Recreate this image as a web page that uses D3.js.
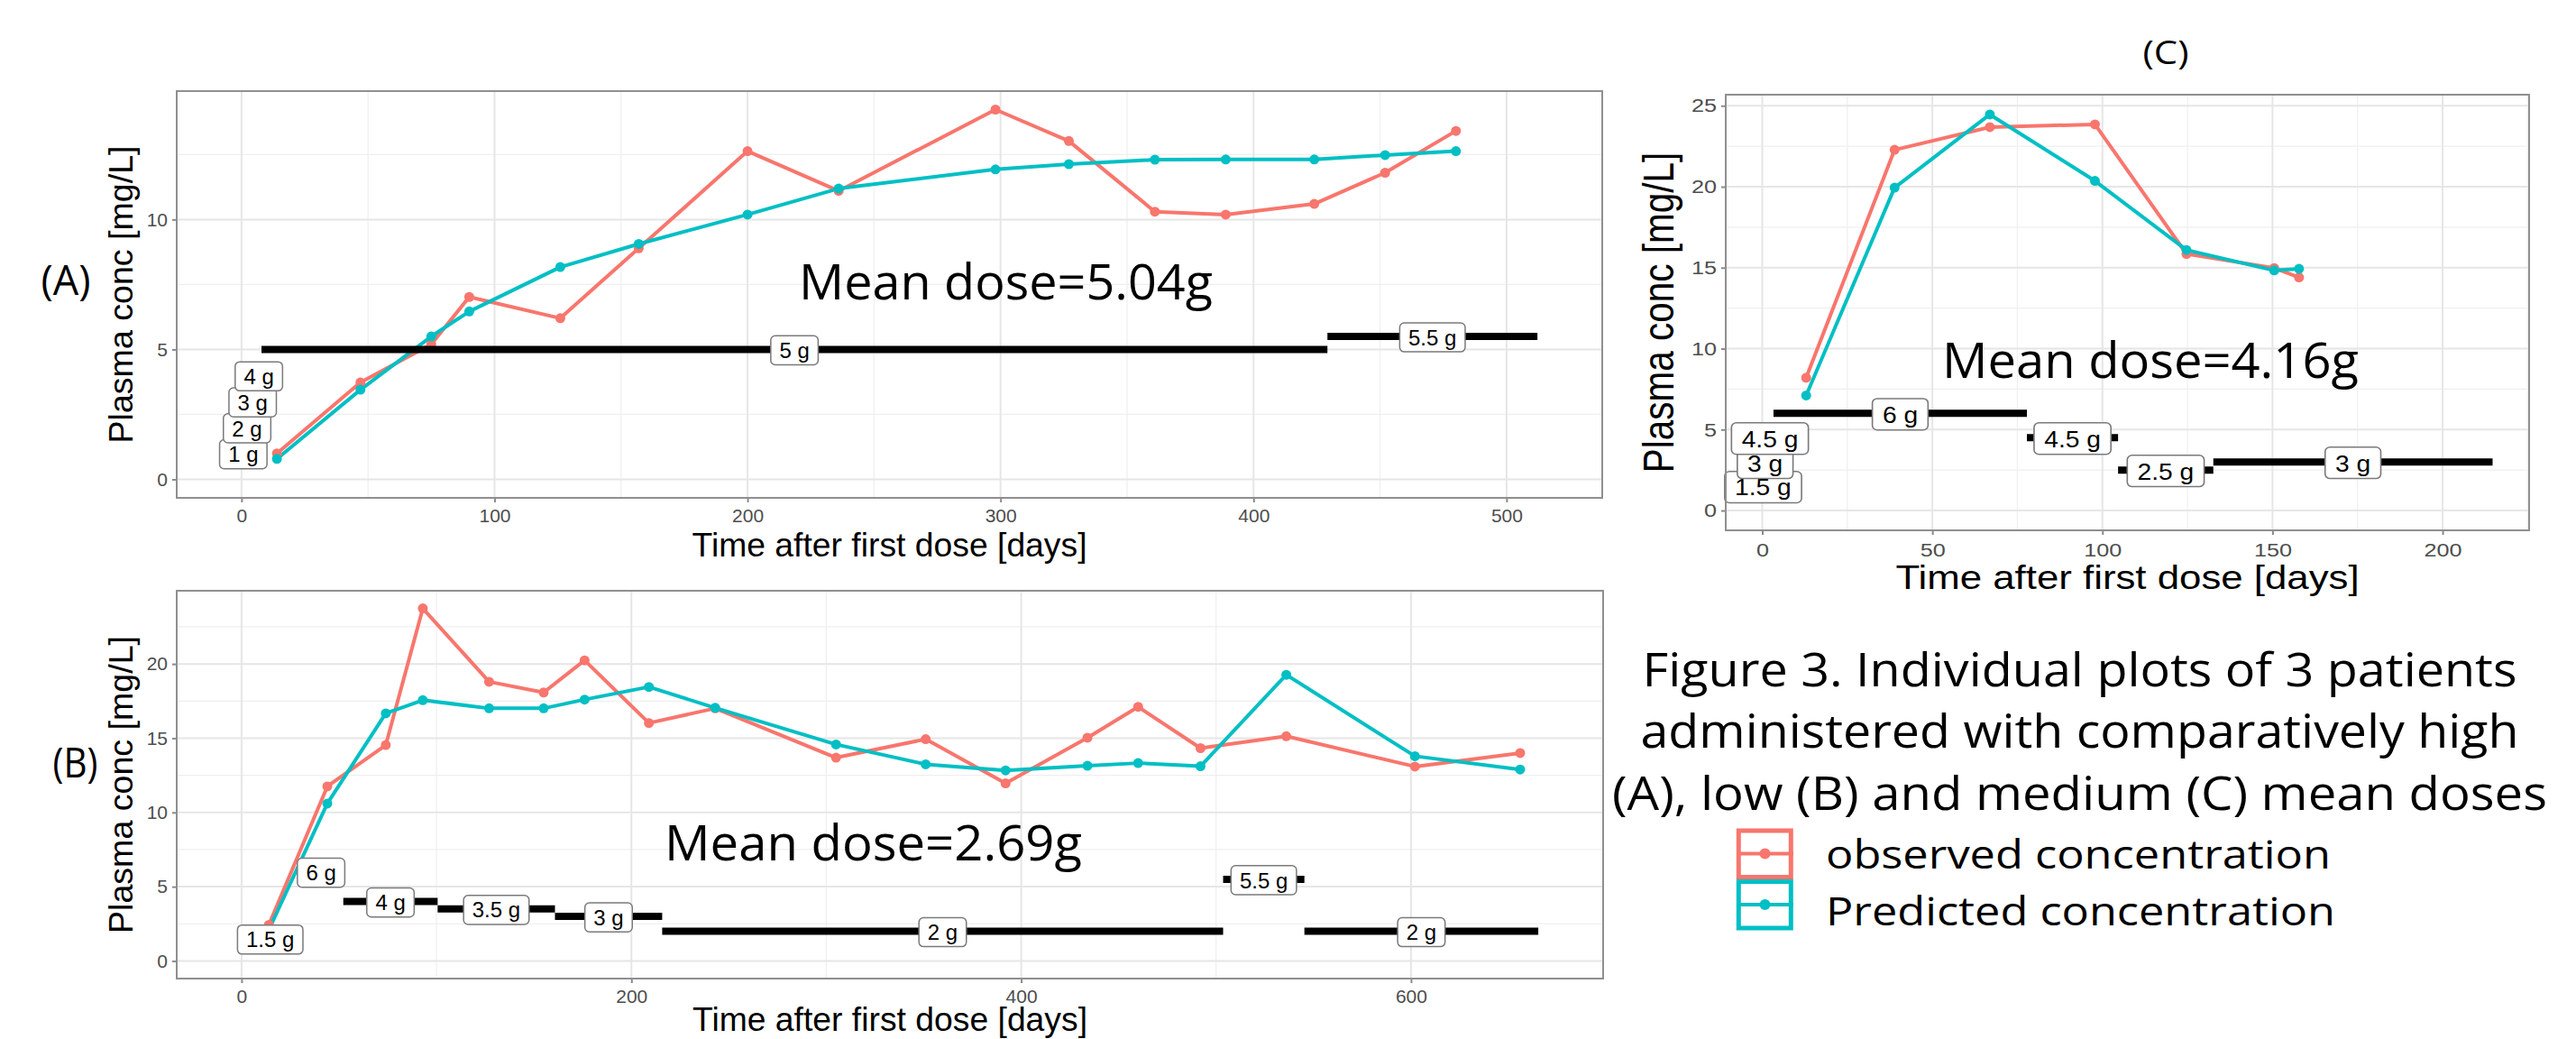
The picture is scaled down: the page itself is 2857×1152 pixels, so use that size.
<!DOCTYPE html>
<html>
<head>
<meta charset="utf-8">
<title>Figure 3</title>
<script src="https://cdnjs.cloudflare.com/ajax/libs/d3/7.8.5/d3.min.js"></script>
<style>
body { margin: 0; background: #fff; }
svg text { font-family: "Liberation Sans", Arial, sans-serif; }
svg text.note { font-family: "Open Sans", "Noto Sans", sans-serif; }
</style>
</head>
<body>
<script>
var width = 2857;
var height = 1152;

var seriesNames = ["observed concentration", "Predicted concentration"];
var seriesColors = ["#F8766D", "#00BFC4"];
var xTitle = "Time after first dose [days]";
var yTitle = "Plasma conc [mg/L]";
var meanDoses = [5.04, 2.69, 4.16];
var captionLines = [
  "Figure 3. Individual plots of 3 patients",
  "administered with comparatively high",
  "(A), low (B) and medium (C) mean doses"
];

// (A) high mean dose
var aDays = [14, 47, 75, 90, 126, 157, 200, 236, 298, 327, 361, 389, 424, 452, 480];
var aObs = [1.0, 3.73, 5.2, 7.02, 6.2, 8.89, 12.63, 11.1, 14.23, 13.02, 10.3, 10.19, 10.6, 11.8, 13.41];
var aPred = [0.79, 3.45, 5.5, 6.46, 8.17, 9.06, 10.19, 11.19, 11.93, 12.13, 12.3, 12.31, 12.31, 12.48, 12.63];
var aDoseFrom = [0, 1.4, 3.0, 5.8, 7.9, 429.2];
var aDoseTo = [1.4, 3.0, 5.8, 7.9, 429.2, 512.2];
var aDose = [1, 2, 3, 4, 5, 5.5];
var aXTicks = [0, 100, 200, 300, 400, 500];
var aYTicks = [0, 5, 10];

// (B) low mean dose
var bDays = [14, 44, 74, 93, 127, 155, 176, 209, 243, 305, 351, 392, 434, 460, 492, 536, 602, 656];
var bObs = [2.43, 11.75, 14.54, 23.74, 18.8, 18.08, 20.24, 16.02, 17.01, 13.69, 14.93, 11.96, 15.03, 17.11, 14.33, 15.13, 13.09, 14.0];
var bPred = [2.1, 10.6, 16.67, 17.56, 17.01, 17.01, 17.6, 18.45, 17.04, 14.58, 13.24, 12.83, 13.14, 13.32, 13.11, 19.27, 13.79, 12.89];
var bDoseFrom = [0, 29.4, 52.2, 100.6, 160.8, 215.8, 503.6, 545.3];
var bDoseTo = [29.4, 52.2, 100.6, 160.8, 215.8, 503.6, 545.3, 665.3];
var bDose = [1.5, 6, 4, 3.5, 3, 2, 5.5, 2];
var bXTicks = [0, 200, 400, 600];
var bYTicks = [0, 5, 10, 15, 20];

// (C) medium mean dose
var cDays = [12.9, 38.9, 66.9, 97.8, 124.7, 150.5, 157.8];
var cObs = [8.2, 22.28, 23.68, 23.85, 15.85, 14.98, 14.4];
var cPred = [7.11, 19.94, 24.46, 20.36, 16.09, 14.83, 14.93];
var cDoseFrom = [0, 0.5, 1.2, 3.3, 77.8, 104.6, 132.6];
var cDoseTo = [0.5, 1.2, 3.3, 77.8, 104.6, 132.6, 214.7];
var cDose = [1.5, 3, 4.5, 6, 4.5, 2.5, 3];
var cXTicks = [0, 50, 100, 150, 200];
var cYTicks = [0, 5, 10, 15, 20, 25];

var svg = d3.select("body").append("svg")
  .attr("width", width)
  .attr("height", height)
  .style("display", "block");

// ggplot style minor breaks: halfway between majors, one extra step past each end
function minorBreaks(ticks, domain) {
  var step = ticks[1] - ticks[0];
  var b = ticks.slice();
  if (domain[0] < b[0]) b.unshift(b[0] - step);
  if (domain[1] > b[b.length - 1]) b.push(b[b.length - 1] + step);
  var out = [];
  for (var i = 0; i < b.length - 1; i++) out.push((b[i] + b[i + 1]) / 2);
  return out.filter(function(v) { return v >= domain[0] && v <= domain[1]; });
}

function note(txt, x, y, size, len, anchor) {
  var t = svg.append("text")
    .attr("class", "note")
    .attr("x", x)
    .attr("y", y)
    .attr("text-anchor", anchor || "start")
    .style("font-size", size + "px")
    .attr("fill", "#000")
    .text(txt);
  if (len) t.attr("textLength", len).attr("lengthAdjust", "spacingAndGlyphs");
  return t;
}

function drawPanel(cfg) {
  var g = svg.append("g");
  var sx = cfg.textScale;

  var xr = d3.extent([0].concat(cfg.days, cfg.doseFrom, cfg.doseTo));
  var yr = d3.extent([0].concat(cfg.obs, cfg.pred, cfg.dose));
  var xe = (xr[1] - xr[0]) * 0.05;
  var ye = (yr[1] - yr[0]) * 0.05;
  var x = d3.scaleLinear().domain([xr[0] - xe, xr[1] + xe]).range([cfg.left, cfg.right]);
  var y = d3.scaleLinear().domain([yr[0] - ye, yr[1] + ye]).range([cfg.bottom, cfg.top]);

  g.append("rect")
    .attr("x", cfg.left).attr("y", cfg.top)
    .attr("width", cfg.right - cfg.left).attr("height", cfg.bottom - cfg.top)
    .attr("fill", "#fff");

  // grid
  var grid = g.append("g");
  grid.selectAll(null).data(minorBreaks(cfg.xTicks, x.domain())).enter().append("line")
    .attr("x1", function(d) { return x(d); }).attr("x2", function(d) { return x(d); })
    .attr("y1", cfg.top).attr("y2", cfg.bottom)
    .attr("stroke", "#efefef").attr("stroke-width", 1.2);
  grid.selectAll(null).data(minorBreaks(cfg.yTicks, y.domain())).enter().append("line")
    .attr("y1", function(d) { return y(d); }).attr("y2", function(d) { return y(d); })
    .attr("x1", cfg.left).attr("x2", cfg.right)
    .attr("stroke", "#efefef").attr("stroke-width", 1.2);
  grid.selectAll(null).data(cfg.xTicks).enter().append("line")
    .attr("x1", function(d) { return x(d); }).attr("x2", function(d) { return x(d); })
    .attr("y1", cfg.top).attr("y2", cfg.bottom)
    .attr("stroke", "#e6e6e6").attr("stroke-width", 2);
  grid.selectAll(null).data(cfg.yTicks).enter().append("line")
    .attr("y1", function(d) { return y(d); }).attr("y2", function(d) { return y(d); })
    .attr("x1", cfg.left).attr("x2", cfg.right)
    .attr("stroke", "#e6e6e6").attr("stroke-width", 2);

  // observed / predicted
  var line = d3.line()
    .x(function(d, i) { return x(cfg.days[i]); })
    .y(function(d) { return y(d); });
  [cfg.obs, cfg.pred].forEach(function(vals, k) {
    g.append("path").datum(vals)
      .attr("d", line)
      .attr("fill", "none")
      .attr("stroke", seriesColors[k])
      .attr("stroke-width", 4)
      .attr("stroke-linejoin", "round");
  });
  [cfg.obs, cfg.pred].forEach(function(vals, k) {
    g.selectAll(null).data(vals).enter().append("circle")
      .attr("cx", function(d, i) { return x(cfg.days[i]); })
      .attr("cy", function(d) { return y(d); })
      .attr("r", 5.5)
      .attr("fill", seriesColors[k]);
  });

  // dose regimen bars
  g.selectAll(null).data(cfg.dose).enter().append("line")
    .attr("x1", function(d, i) { return x(cfg.doseFrom[i]); })
    .attr("x2", function(d, i) { return x(cfg.doseTo[i]); })
    .attr("y1", function(d) { return y(d); })
    .attr("y2", function(d) { return y(d); })
    .attr("stroke", "#000")
    .attr("stroke-width", 8);

  var lab = g.selectAll(null).data(cfg.dose).enter().append("g")
    .attr("transform", function(d, i) {
      return "translate(" + x((cfg.doseFrom[i] + cfg.doseTo[i]) / 2) + "," + (y(d) + 1) + ") scale(" + cfg.labelScale + ",1)";
    });
  lab.append("rect");
  lab.append("text")
    .attr("text-anchor", "middle")
    .attr("dy", "0.36em")
    .style("font-size", cfg.labelSize + "px")
    .attr("fill", "#000")
    .text(function(d) { return d + " g"; });
  lab.each(function() {
    var w = d3.select(this).select("text").node().getComputedTextLength() + cfg.labelSize * 0.8;
    var h = cfg.labelSize * 1.34;
    d3.select(this).select("rect")
      .attr("x", -w / 2).attr("y", -h / 2)
      .attr("width", w).attr("height", h)
      .attr("rx", 5)
      .attr("fill", "#fff")
      .attr("stroke", "#7a7a7a")
      .attr("stroke-width", 1.5);
  });

  // axes
  var ax = g.append("g")
    .attr("transform", "translate(0," + cfg.bottom + ")")
    .call(d3.axisBottom(x).tickValues(cfg.xTicks).tickSize(5).tickPadding(cfg.xPad));
  ax.attr("font-family", null).attr("font-size", cfg.tickSize);
  ax.select(".domain").remove();
  ax.selectAll(".tick line").attr("stroke", "#8a8a8a").attr("stroke-width", 2);
  ax.selectAll(".tick text").attr("fill", "#4d4d4d").attr("transform", "scale(" + sx + ",1)");

  var ay = g.append("g")
    .attr("transform", "translate(" + cfg.left + ",0)")
    .call(d3.axisLeft(y).tickValues(cfg.yTicks).tickSize(5).tickPadding(cfg.yPad));
  ay.attr("font-family", null).attr("font-size", cfg.tickSize);
  ay.select(".domain").remove();
  ay.selectAll(".tick line").attr("stroke", "#8a8a8a").attr("stroke-width", 2);
  ay.selectAll(".tick text")
    .attr("fill", "#4d4d4d")
    .attr("x", 0)
    .attr("transform", "translate(" + (-5 - cfg.yPad) + ",0) scale(" + sx + ",1)");

  g.append("rect")
    .attr("x", cfg.left).attr("y", cfg.top)
    .attr("width", cfg.right - cfg.left).attr("height", cfg.bottom - cfg.top)
    .attr("fill", "none")
    .attr("stroke", "#8f8f8f")
    .attr("stroke-width", 2);

  // axis titles
  var cx = (cfg.left + cfg.right) / 2;
  var cy = (cfg.top + cfg.bottom) / 2;
  g.append("text")
    .attr("transform", "translate(" + cx + "," + cfg.xTitleY + ") scale(" + sx + ",1)")
    .attr("text-anchor", "middle")
    .style("font-size", cfg.titleSize + "px")
    .attr("fill", "#000")
    .text(xTitle);
  g.append("text")
    .attr("transform", "translate(" + cfg.yTitleX + "," + cy + ") scale(" + sx + ",1) rotate(-90)")
    .attr("text-anchor", "middle")
    .style("font-size", cfg.yTitleSize + "px")
    .attr("fill", "#000")
    .text(yTitle);

  note("Mean dose=" + cfg.meanDose.toFixed(2) + "g", cfg.note[0], cfg.note[1], 55, cfg.note[2]);
}

drawPanel({
  days: aDays, obs: aObs, pred: aPred,
  doseFrom: aDoseFrom, doseTo: aDoseTo, dose: aDose,
  xTicks: aXTicks, yTicks: aYTicks,
  left: 196, right: 1777, top: 101, bottom: 552,
  textScale: 1, labelScale: 1, labelSize: 24, tickSize: 21,
  xPad: 7.5, yPad: 5, titleSize: 37.3, yTitleSize: 37.6,
  xTitleY: 616.7, yTitleX: 147,
  meanDose: meanDoses[0], note: [886, 331.7, 459]
});

drawPanel({
  days: bDays, obs: bObs, pred: bPred,
  doseFrom: bDoseFrom, doseTo: bDoseTo, dose: bDose,
  xTicks: bXTicks, yTicks: bYTicks,
  left: 196, right: 1778, top: 655, bottom: 1085,
  textScale: 1, labelScale: 1, labelSize: 24, tickSize: 21,
  xPad: 7.5, yPad: 5, titleSize: 37.3, yTitleSize: 37.6,
  xTitleY: 1143, yTitleX: 147,
  meanDose: meanDoses[1], note: [737, 954, 463]
});

drawPanel({
  days: cDays, obs: cObs, pred: cPred,
  doseFrom: cDoseFrom, doseTo: cDoseTo, dose: cDose,
  xTicks: cXTicks, yTicks: cYTicks,
  left: 1914, right: 2805, top: 105, bottom: 588,
  textScale: 1.2, labelScale: 1.085, labelSize: 26, tickSize: 21,
  xPad: 9, yPad: 5, titleSize: 36.5, yTitleSize: 40.5,
  xTitleY: 653.3, yTitleX: 1855.5,
  meanDose: meanDoses[2], note: [2154, 418.5, 462]
});

// panel letters
note("(A)", 73, 327, 46, 55, "middle");
note("(B)", 83.5, 862, 46, 50, "middle");
note("(C)", 2402, 71, 36, 51, "middle");

// caption
var capY = [760.7, 829, 898.2];
var capW = [970, 974, 1037];
captionLines.forEach(function(s, i) {
  note(s, 2306.5, capY[i], 51, capW[i], "middle");
});

// legend
var keyTop = [918.5, 975];
var keyText = [963, 1026.2];
var textW = [560, 565];
seriesNames.forEach(function(name, k) {
  var lg = svg.append("g");
  lg.append("rect")
    .attr("x", 1928.3).attr("y", keyTop[k] + 2.5)
    .attr("width", 58).attr("height", 51.5)
    .attr("fill", "#fff")
    .attr("stroke", seriesColors[k])
    .attr("stroke-width", 5);
  lg.append("line")
    .attr("x1", 1926).attr("x2", 1989)
    .attr("y1", keyTop[k] + 28).attr("y2", keyTop[k] + 28)
    .attr("stroke", seriesColors[k])
    .attr("stroke-width", 4);
  lg.append("circle")
    .attr("cx", 1957.5).attr("cy", keyTop[k] + 28)
    .attr("r", 6)
    .attr("fill", seriesColors[k]);
  note(name, 2025, keyText[k], 44, textW[k]);
});
</script>
</body>
</html>
